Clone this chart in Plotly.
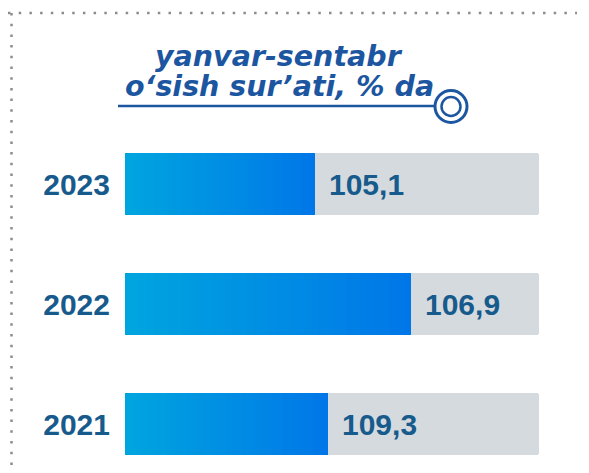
import plotly.graph_objects as go

# ---- data ----
years = ["2023", "2022", "2021"]
growth_pct = [105.1, 106.9, 109.3]
value_labels = ["105,1", "106,9", "109,3"]
# filled share of each bar track, as drawn in the picture (percent of track)
bar_fill_pct = [46.0, 69.0, 49.0]
track_pct = [100.0, 100.0, 100.0]
title_lines = ["yanvar-sentabr", "o‘sish sur’ati, % da"]
category_order = ["2021", "2022", "2023"]

# ---- layout constants ----
W, H = 589, 473
L, R, T, B = 125, 50, 110, 0
PW, PH = W - L - R, H - T - B


def px(x):
    return (x - L) / PW


def py(y):
    return (H - B - y) / PH


TITLE_BLUE = "#1d56a0"
TEXT_BLUE = "#175a8c"
GRAY = "#d5dade"
C0 = (0, 165, 223)
C1 = (0, 119, 232)
BAR_W = 0.52
LABEL_FONT = dict(family="Liberation Sans Narrow, Arial Narrow, Liberation Sans",
                  size=30, color=TEXT_BLUE, weight="bold")

fig = go.Figure()

# gray tracks
fig.add_trace(go.Bar(
    y=years, x=track_pct, orientation="h", width=BAR_W,
    marker=dict(color=GRAY, line=dict(width=0), cornerradius=3),
    hoverinfo="skip", showlegend=False,
))

# gradient filled bars, built from thin slices
N = 40
for i in range(N):
    t = i / (N - 1)
    col = "rgb({},{},{})".format(*[round(C0[k] + (C1[k] - C0[k]) * t) for k in range(3)])
    fig.add_trace(go.Bar(
        y=years,
        x=[f / N * 1.08 if i < N - 1 else f / N for f in bar_fill_pct],
        base=[f * i / N for f in bar_fill_pct],
        orientation="h", width=BAR_W,
        marker=dict(color=col, line=dict(width=0)),
        hoverinfo="skip", showlegend=False,
    ))

# value labels (placed through the axes: x = fill, y = category index)
for yr, f, lab in zip(years, bar_fill_pct, value_labels):
    fig.add_annotation(
        x=f, y=category_order.index(yr), xref="x", yref="y", text=lab, showarrow=False,
        xanchor="left", yanchor="middle", xshift=12,
        font=LABEL_FONT,
    )

# title
title_font = dict(family="DejaVu Sans", size=28.5, color=TITLE_BLUE,
                  weight="bold", style="italic")
fig.add_annotation(x=px(279), y=py(56), xref="paper", yref="paper",
                   text=title_lines[0], showarrow=False,
                   xanchor="center", yanchor="middle", font=title_font)
fig.add_annotation(x=px(279), y=py(86), xref="paper", yref="paper",
                   text=title_lines[1], showarrow=False,
                   xanchor="center", yanchor="middle", font=title_font)

shapes = [
    # dotted frame
    dict(type="line", xref="paper", yref="paper", x0=px(8), x1=px(577), y0=py(13), y1=py(13),
         line=dict(color="#8c8c8c", width=2.5, dash="2.5px,8.2px")),
    dict(type="line", xref="paper", yref="paper", x0=px(11.5), x1=px(11.5), y0=py(13), y1=py(473),
         line=dict(color="#8c8c8c", width=2.5, dash="2.5px,8.2px")),
    # underline
    dict(type="line", xref="paper", yref="paper", x0=px(118), x1=px(435), y0=py(106), y1=py(106),
         line=dict(color=TITLE_BLUE, width=2.5)),
    # ring icon
    dict(type="circle", xref="paper", yref="paper", x0=px(451 - 16), x1=px(451 + 16),
         y0=py(106.5 + 16), y1=py(106.5 - 16), fillcolor="white",
         line=dict(color=TITLE_BLUE, width=3)),
    dict(type="circle", xref="paper", yref="paper", x0=px(451 - 9.5), x1=px(451 + 9.5),
         y0=py(106.5 + 9.5), y1=py(106.5 - 9.5), fillcolor="white",
         line=dict(color=TITLE_BLUE, width=2.5)),
]

fig.update_layout(
    width=W, height=H, autosize=False,
    margin=dict(l=L, r=R, t=T, b=B, pad=0),
    paper_bgcolor="white", plot_bgcolor="white",
    barmode="overlay", bargap=0,
    shapes=shapes,
    xaxis=dict(range=[0, 100], visible=False, fixedrange=True),
    yaxis=dict(
        type="category", categoryorder="array", categoryarray=category_order,
        range=[-0.408, 2.617], showgrid=False, zeroline=False, showline=False,
        ticks="", ticklabelstandoff=14, fixedrange=True,
        tickfont=LABEL_FONT,
    ),
    showlegend=False,
)

fig.write_html(
    "out.html",
    config={"displayModeBar": False, "staticPlot": True},
    post_script="document.body.style.margin='0';document.body.style.overflow='hidden';",
)
